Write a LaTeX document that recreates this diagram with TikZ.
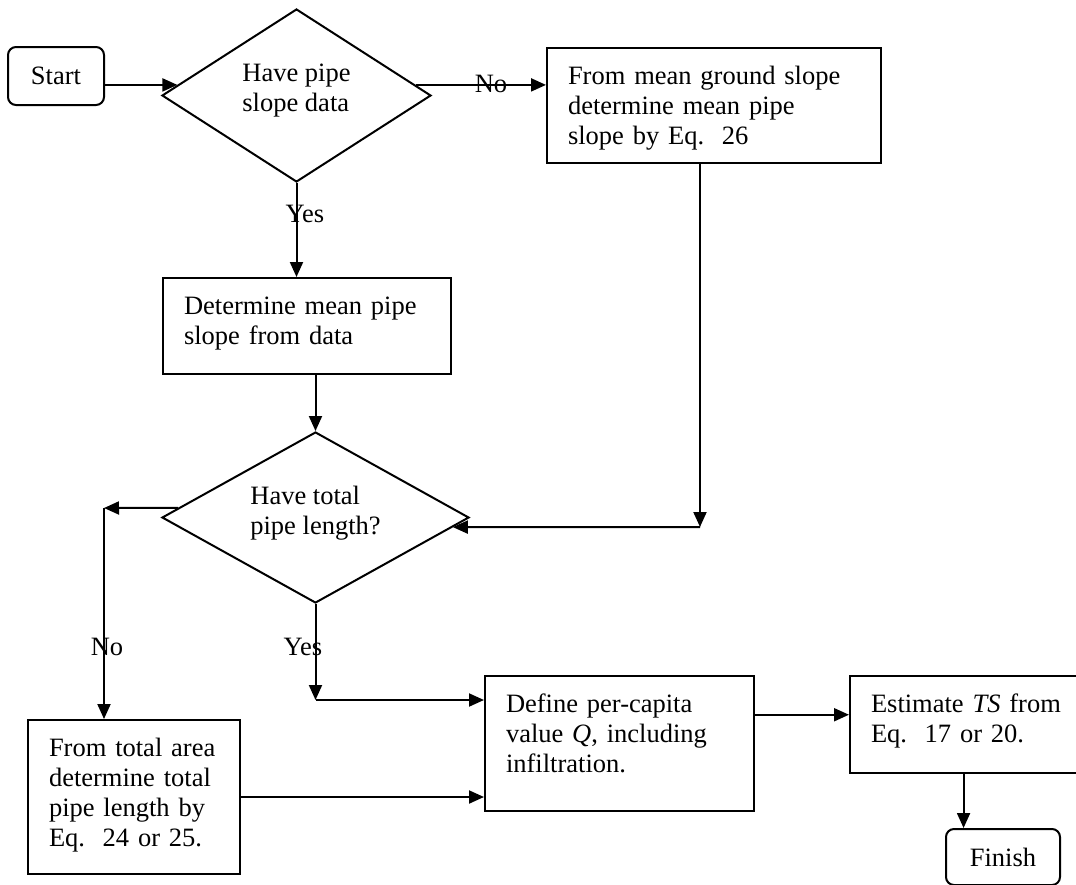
\documentclass[tikz,border=0pt]{standalone}
\usepackage{fontspec}
\setmainfont{Liberation Serif}
\usetikzlibrary{arrows.meta, shapes.geometric, calc}
\newcommand{\flowfont}{\fontsize{26.5pt}{30pt}\selectfont}

\begin{document}
\begin{tikzpicture}[
    x=1pt, y=-1pt,
    every node/.style={font=\flowfont},
    box/.style 2 args={draw, line width=2pt, anchor=north west, align=left, inner xsep=21pt, inner ysep=0pt, text height=36pt, text width=#1, text depth=#2},
    term/.style 2 args={draw, line width=2pt, rounded corners=8pt, minimum width=#1, minimum height=#2, inner sep=0pt},
    dec/.style 2 args={draw, diamond, line width=2pt, inner sep=0pt, minimum width=#1, minimum height=#2},
    lbl/.style={inner sep=0pt},
    arr/.style={-{Triangle[length=15pt, width=13pt]}, line width=2pt},
]
    \useasboundingbox (0,0) rectangle (1076,884);
    \clip (0,0) rectangle (1076,884);

    % Terminals
    \node[term={96pt}{58pt}] (start) at (56,76) {Start};
    \node[term={114pt}{56pt}] (fin) at (1003,857) {Finish};

    % Decisions
    \node[dec={269pt}{173pt}, label={[align=left, yshift=4.5pt]center:Have pipe\\slope data}] (d1) at (296.5,95.5) {};
    \node[dec={307pt}{171pt}, label={[align=left, yshift=4pt]center:Have total\\pipe length?}] (d2) at (315.5,517.5) {};

    % Process boxes
    \node[box={292pt}{79pt}] (fm) at (546,47) {From mean ground slope\\determine mean pipe\\slope by Eq.\ \ 26};
    \node[box={246pt}{60pt}] (det) at (162,277) {Determine mean pipe\\slope from data};
    \node[box={170pt}{118pt}] (tot) at (27,719) {From total area\\determine total\\pipe length by\\Eq.\ \ 24 or 25.};
    \node[box={227pt}{99pt}] (def) at (484,675) {Define per-capita\\value \textit{Q}, including\\infiltration.};
    \node[box={199pt}{61pt}] (est) at (849,675) {Estimate \textit{TS} from\\Eq.\ \ 17 or 20.};

    % Points on the diamond edges and corners
    \coordinate (inA) at ($(d1.west)!0.121!(d1.north)$);
    \coordinate (outA) at ($(d1.east)!0.121!(d1.north)$);
    \coordinate (outB) at ($(d2.west)!0.111!(d2.north)$);
    \coordinate (inB) at ($(d2.east)!0.111!(d2.south)$);
    \coordinate (cR) at (700,527);
    \coordinate (cL) at (104,508);
    \coordinate (cY) at (315.5,700);
    \coordinate (outD) at ($(def.north east)!0.29!(def.south east)$);
    \coordinate (inF) at ($(fin.north west)!0.16!(fin.north east)$);

    % Key arrows
    \draw[arr] (start.east |- inA) -- (inA);
    \draw[arr] (outA) -- (outA -| fm.west);
    \node[lbl] (noA) at (491,84) {No};
    \draw[arr] (d1.south) -- (d1.south |- det.north);
    \node[lbl] (yesA) at (305,214) {Yes};
    \draw[arr] (d2.north |- det.south) -- (d2.north);
    \draw[arr] (cR |- fm.south) -- (cR);
    \draw[arr] (cR) -- (inB);
    \draw[arr] (outB) -- (cL);
    \draw[arr] (cL) -- (cL |- tot.north);
    \node[lbl] (noB) at (107,647) {No};
    \draw[arr] (d2.south) -- (cY);
    \draw[arr] (cY) -- (cY -| def.west);
    \node[lbl] (yesB) at (303,647) {Yes};
    \draw[arr] (tot.east) -- (tot.east -| def.west);
    \draw[arr] (outD) -- (outD -| est.west);
    \draw[arr] (inF |- est.south) -- (inF);
\end{tikzpicture}
\end{document}
